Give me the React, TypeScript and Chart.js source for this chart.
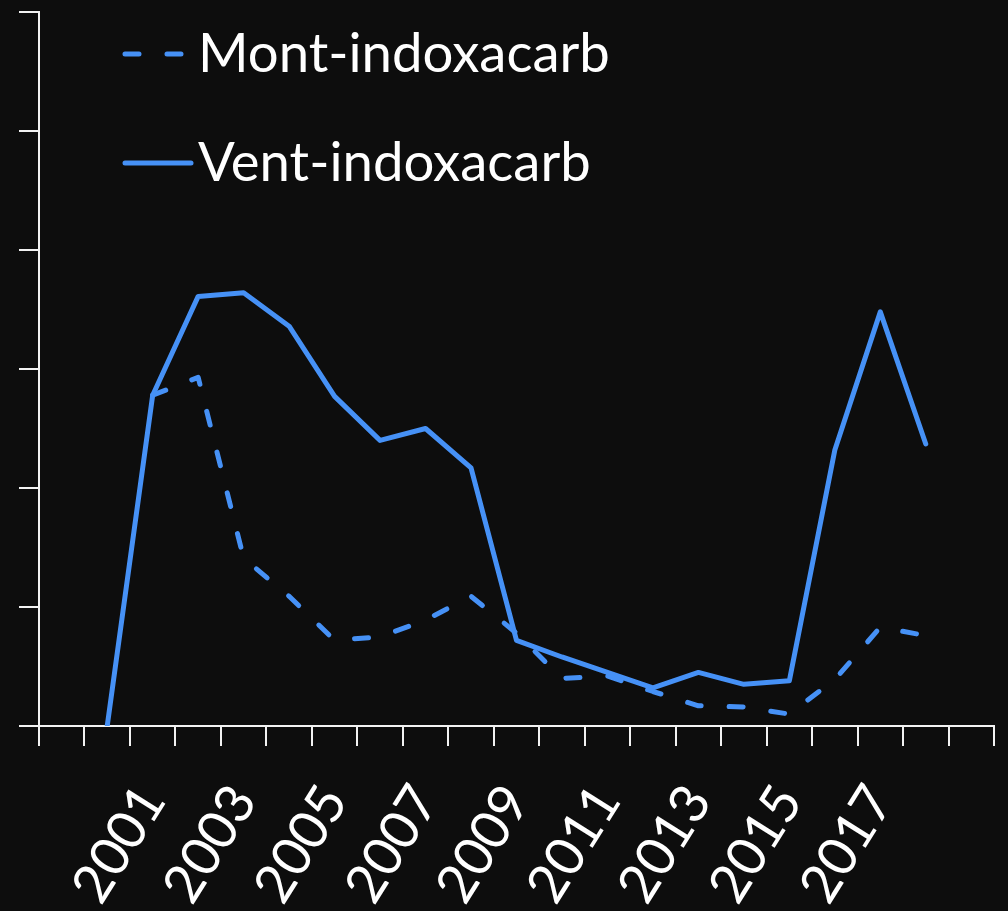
import React, { useEffect, useRef } from "react";
import { Chart, registerables } from "chart.js";

Chart.register(...registerables);

// ---- data ----
const years = [
  "1999", "2000", "2001", "2002", "2003", "2004", "2005", "2006", "2007", "2008",
  "2009", "2010", "2011", "2012", "2013", "2014", "2015", "2016", "2017", "2018", "2019",
];
const tickYears = ["2001", "2003", "2005", "2007", "2009", "2011", "2013", "2015", "2017"];
const seriesNames = ["Mont-indoxacarb", "Vent-indoxacarb"];
const montValues = [
  null, null, 2.78, 2.93, 1.41, 1.09, 0.72, 0.75, 0.89, 1.09,
  0.78, 0.4, 0.42, 0.29, 0.17, 0.16, 0.1, 0.39, 0.83, 0.76, null,
];
const ventValues = [
  null, 0, 2.78, 3.61, 3.64, 3.36, 2.77, 2.4, 2.5, 2.17,
  0.72, 0.58, 0.45, 0.32, 0.45, 0.35, 0.38, 2.32, 3.48, 2.37, null,
];
const yMin = 0;
const yMax = 6;
const yStep = 1;

// ---- style ----
const BG = "#0d0d0d";
const BLUE = "#4691f6";
const AXIS = "#f2f2f2";
const FONT = "Lato, 'Open Sans', sans-serif";

const lineLegend = {
  id: "lineLegend",
  afterDraw(chart: any) {
    const ctx = chart.ctx;
    ctx.save();
    chart.data.datasets.forEach((ds: any, i: number) => {
      const y = 54 + i * 109;
      ctx.beginPath();
      ctx.setLineDash(ds.borderDash || []);
      ctx.lineDashOffset = 0;
      ctx.lineCap = "round";
      ctx.lineWidth = ds.borderWidth;
      ctx.strokeStyle = ds.borderColor;
      ctx.moveTo(125, y);
      ctx.lineTo(191, y);
      ctx.stroke();
      ctx.setLineDash([]);
      ctx.fillStyle = "#ffffff";
      ctx.font = `54.5px ${FONT}`;
      ctx.textAlign = "left";
      ctx.textBaseline = "alphabetic";
      ctx.fillText(ds.label, 198, y + 18);
    });
    ctx.restore();
  },
};

export default function App() {
  const canvasRef = useRef<HTMLCanvasElement | null>(null);

  useEffect(() => {
    if (!canvasRef.current) return;
    const chart = new Chart(canvasRef.current, {
      type: "line",
      data: {
        labels: years,
        datasets: [
          {
            label: seriesNames[0],
            data: montValues,
            borderColor: BLUE,
            backgroundColor: BLUE,
            borderWidth: 5,
            borderDash: [14, 28],
            borderCapStyle: "round",
            borderJoinStyle: "round",
            pointRadius: 0,
            tension: 0,
            fill: false,
          },
          {
            label: seriesNames[1],
            data: ventValues,
            borderColor: BLUE,
            backgroundColor: BLUE,
            borderWidth: 5,
            borderCapStyle: "round",
            borderJoinStyle: "round",
            pointRadius: 0,
            tension: 0,
            fill: false,
          },
        ],
      },
      options: {
        responsive: false,
        animation: false,
        layout: { padding: { left: 19, right: 14, top: 12, bottom: 0 } },
        plugins: { legend: { display: false }, tooltip: { enabled: false } },
        scales: {
          x: {
            type: "category",
            offset: true,
            grid: {
              offset: true,
              drawOnChartArea: false,
              drawTicks: true,
              tickLength: 20,
              color: AXIS,
              lineWidth: 2,
            },
            border: { display: true, color: AXIS, width: 2 },
            ticks: {
              autoSkip: false,
              maxRotation: 58,
              minRotation: 58,
              padding: 28,
              color: "#ffffff",
              font: { family: FONT, size: 54 },
              callback: function (this: any, value: any) {
                const l = this.getLabelForValue(value);
                return tickYears.includes(l) ? l : "";
              },
            },
            afterFit: (scale: any) => {
              scale.paddingLeft = 0;
              scale.paddingRight = 0;
              scale.height = 185;
            },
          },
          y: {
            min: yMin,
            max: yMax,
            ticks: { stepSize: yStep, display: false },
            grid: {
              drawOnChartArea: false,
              drawTicks: true,
              tickLength: 20,
              color: AXIS,
              lineWidth: 2,
            },
            border: { display: true, color: AXIS, width: 2 },
          },
        },
      },
      plugins: [lineLegend],
    });
    return () => chart.destroy();
  }, []);

  return (
    <div
      style={{
        position: "absolute",
        left: 0,
        top: 0,
        width: 1008,
        height: 911,
        background: BG,
      }}
    >
      <canvas ref={canvasRef} width={1008} height={911} style={{ display: "block" }} />
    </div>
  );
}
